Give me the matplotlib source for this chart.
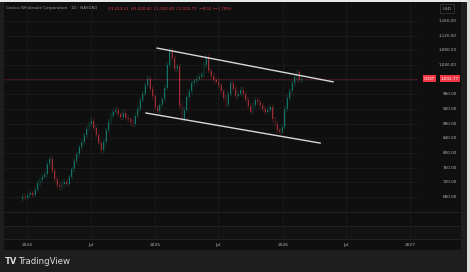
import numpy as np
import pandas as pd
import matplotlib
matplotlib.use('Agg')
import matplotlib.pyplot as plt
import matplotlib.dates as mdates
import matplotlib.transforms as mtransforms
from matplotlib.patches import Rectangle

# weekly closes (week of 2023-12-18 .. 2026-03-02)
week_start = '2023-12-18'
closes = [680, 678, 684, 690, 686, 700, 718, 726, 735, 742,
          770, 784, 752, 728, 712, 706, 714, 722, 716, 734,
          755, 778, 796, 815, 830, 848, 866, 878, 888, 868,
          850, 828, 808, 830, 862, 885, 902, 912, 918, 905,
          898, 910, 896, 892, 884, 878, 902, 920, 945, 962,
          985, 1002, 975, 955, 925, 914, 930, 946, 978, 1040,
          1078, 1058, 1028, 1036, 928, 892, 918, 952, 968, 990,
          996, 1002, 1008, 1015, 1040, 1062, 1024, 1010, 1000, 994,
          985, 968, 950, 932, 962, 990, 975, 955, 962, 972,
          960, 945, 928, 912, 930, 945, 938, 930, 920, 912,
          918, 924, 892, 880, 862, 858, 872, 920, 950, 968,
          990, 1006, 1020, 998, 1003]
first_open = 675
last_price = 1002.77

# channel lines (date, price)
upper_line = [('2025-01-07', 1086), ('2026-05-25', 994)]
lower_line = [('2024-12-06', 909), ('2026-04-18', 827)]

price_ticks = [1160, 1120, 1080, 1040, 960, 920, 880, 840, 800, 760, 720, 680]
grid_prices = [1160, 1120, 1080, 1040, 1000, 960, 920, 880, 840, 800, 760, 720, 680]
time_ticks = ['2024-01-01', '2024-07-01', '2025-01-01', '2025-07-01',
              '2026-01-01', '2026-07-01', '2027-01-01']
time_labels = ['2024', 'Jul', '2025', 'Jul', '2026', 'Jul', '2027']

header = 'Costco Wholesale Corporation · 1D · NASDAQ'
ohlc_text = 'O1,013.11  H1,020.82  L1,002.49  C1,002.77  −8.02 (−0.79%)'

W, H = 470, 272
UP = '#13927f'
DOWN = '#c8363f'
TXT = '#b2b5be'
GRID = '#1b1b1b'

fig = plt.figure(figsize=(W / 100, H / 100), dpi=100, facecolor='#1e1e1e')

def fx(px):
    return px / W

def fy(py):
    return 1 - py / H

# dark chart panel
fig.patches.append(Rectangle((fx(4), fy(250)), fx(457), 248 / H, transform=fig.transFigure,
                             facecolor='#0f0f0f', edgecolor='none', zorder=-2))
fig.patches.append(Rectangle((fx(4), fy(239)), fx(457), 13 / H, transform=fig.transFigure,
                             facecolor='#121212', edgecolor='none', zorder=-2))
fig.patches.append(Rectangle((0, fy(1.5)), 1, 1.5 / H, transform=fig.transFigure,
                             facecolor='#e8e8e8', edgecolor='none', zorder=-2))
fig.patches.append(Rectangle((fx(467), 0), fx(3), 1, transform=fig.transFigure,
                             facecolor='#dcdcdc', edgecolor='none', zorder=-2))

ax = fig.add_axes([fx(4), fy(212), fx(414), 209 / H])
ax.set_zorder(5)
ax.set_facecolor('none')
ax.set_xlim(mdates.date2num(pd.Timestamp('2023-10-27')), mdates.date2num(pd.Timestamp('2027-01-23')))
ax.set_ylim(639, 1209)
for s in ax.spines.values():
    s.set_visible(False)
ax.set_xticks([])
ax.set_yticks([])

# pane separator lines
for py in [212, 226, 239]:
    fig.add_artist(plt.Line2D([fx(4), fx(461)], [fy(py), fy(py)], transform=fig.transFigure,
                              color='#262626', lw=0.6, zorder=-1))

# grid
for p in grid_prices:
    ax.axhline(p, color=GRID, lw=0.6, zorder=1)
tr_xfig = mtransforms.blended_transform_factory(ax.transData, fig.transFigure)
for d in time_ticks:
    xd = mdates.date2num(pd.Timestamp(d))
    ax.add_line(plt.Line2D([xd, xd], [fy(3), fy(239)], transform=tr_xfig, color=GRID,
                           lw=0.6, clip_on=False, zorder=1))

# candles
dates = pd.date_range(week_start, periods=len(closes), freq='7D')
xs = mdates.date2num(dates) + 2
opens = [first_open] + closes[:-1]
for x, o, c in zip(xs, opens, closes):
    col = UP if c >= o else DOWN
    lo, hi = min(o, c), max(o, c)
    if hi - lo < 3:
        hi = lo + 3
    ax.add_patch(Rectangle((x - 1.3, lo), 2.6, hi - lo, facecolor=col, edgecolor='none',
                           alpha=0.75, zorder=3))
    ax.plot([x, x], [lo - 7, hi + 7], color=col, lw=0.35, alpha=0.7, zorder=3)

# channel
for line in [upper_line, lower_line]:
    lx = [mdates.date2num(pd.Timestamp(d)) for d, _ in line]
    ly = [p for _, p in line]
    ax.plot(lx, ly, color='#d8d8d8', lw=1.0, zorder=4)

# last price line
ax.axhline(last_price, color='#8a2630', lw=0.6, ls=(0, (1, 1)), zorder=2)

# price labels
tr_yfig = mtransforms.blended_transform_factory(fig.transFigure, ax.transData)
for p in price_ticks:
    ax.text(fx(457), p, f'{p:,.2f}', transform=tr_yfig, ha='right', va='center',
            fontsize=3.0, color=TXT, clip_on=False)
ax.text(fx(459), last_price, f'{last_price:,.2f}', transform=tr_yfig, ha='right', va='center',
        fontsize=3.0, color='white', clip_on=False,
        bbox=dict(boxstyle='square,pad=0.3', fc='#f23645', ec='none'))
ax.text(fx(435), last_price, 'COST', transform=tr_yfig, ha='right', va='center',
        fontsize=3.0, color='white', clip_on=False,
        bbox=dict(boxstyle='square,pad=0.3', fc='#f23645', ec='none'))

# time labels
for d, lab in zip(time_ticks, time_labels):
    ax.text(mdates.date2num(pd.Timestamp(d)), fy(245), lab, transform=tr_xfig, ha='center',
            va='center', fontsize=3.2, color=TXT, clip_on=False)

# header
fig.text(fx(6), fy(8.5), header, fontsize=2.9, color='#9a9a9a', va='center')
fig.text(fx(108), fy(8.5), ohlc_text, fontsize=2.9, color='#e0394a', va='center')
fig.text(fx(447), fy(8.5), 'USD', fontsize=3.0, color=TXT, va='center', ha='center',
         bbox=dict(boxstyle='square,pad=0.6', fc='#0f0f0f', ec='#3a3a3a', lw=0.5))

# logo
fig.text(fx(5), fy(262), 'TV', fontsize=6, color='#dadada', weight='heavy', va='center')
fig.text(fx(19), fy(262), 'TradingView', fontsize=6.2, color='#dadada', va='center')

fig.savefig('out.png', dpi=100, facecolor=fig.get_facecolor())
